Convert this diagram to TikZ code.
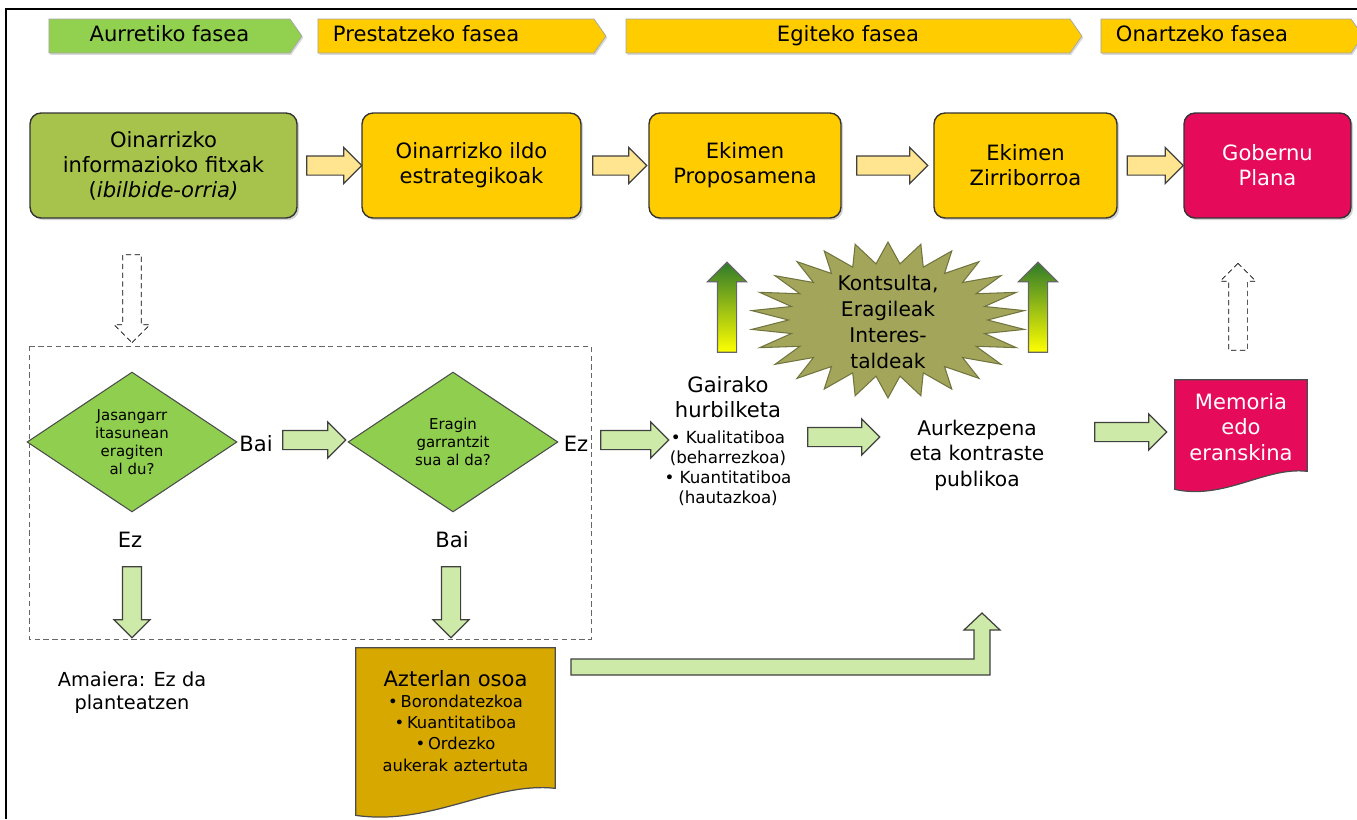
\documentclass[tikz,border=0pt]{standalone}
\usepackage{fontspec}
\setmainfont{DejaVu Sans}
\usepackage{tikz}
\usetikzlibrary{shapes,arrows,positioning,calc,shadows}

\definecolor{phgreen}{HTML}{92D050}
\definecolor{phyellow}{HTML}{FFCC00}
\definecolor{olivebox}{HTML}{A8C34C}
\definecolor{crimson}{HTML}{E50A5A}
\definecolor{goldbox}{HTML}{D6A800}
\definecolor{paleyel}{HTML}{FFE58F}
\definecolor{palegrn}{HTML}{CDEAA8}
\definecolor{dmgreen}{HTML}{8FCE4F}
\definecolor{burstcol}{HTML}{A3A65A}
\definecolor{darkgrn}{HTML}{2F7A2A}

\tikzset{
  phase/.style={signal, signal to=east, signal from=nowhere, signal pointer angle=110, fill=phyellow, draw=black!35, minimum height=0.68cm, inner sep=0pt, text height=9pt, text depth=2.5pt, font=\fontsize{12}{14}\selectfont, drop shadow={opacity=0.3, shadow xshift=0.8pt, shadow yshift=-1pt}},
  phlabel/.style={anchor=west, xshift=0.3cm, inner sep=0pt, text height=9pt, text depth=2.5pt, font=\fontsize{12}{14}\selectfont},
  stage/.style={rectangle, rounded corners=0.22cm, fill=phyellow, draw=black!80, line width=0.8pt, minimum height=2.1cm, align=center, font=\fontsize{12}{14.2}\selectfont, drop shadow={opacity=0.35, shadow xshift=1.2pt, shadow yshift=-1.2pt}},
  blk/.style={single arrow, line width=0.7pt, inner sep=0.18cm, single arrow head extend=0.17cm},
  yarr/.style={blk, fill=paleyel, draw=black!75},
  garr/.style={blk, fill=palegrn, draw=black!75},
  dasharr/.style={blk, fill=white, draw=black, densely dashed, line width=0.4pt},
  gradarr/.style={blk, draw=black!60, top color=darkgrn, bottom color=yellow, single arrow head extend=0.2cm},
  dia/.style={diamond, aspect=1.5, fill=dmgreen, draw=black!70, line width=0.6pt, minimum width=4.2cm, minimum height=2.8cm, inner sep=0pt, align=center, font=\fontsize{8.5}{10.2}\selectfont},
  doc/.style={rectangle, inner sep=0pt, align=center},
  docline/.style={draw=black!70, line width=0.7pt},
  plain/.style={align=center, inner sep=1pt, font=\fontsize{11.5}{14.5}\selectfont},
  small/.style={align=center, inner sep=1pt, font=\fontsize{9.5}{11.3}\selectfont},
  burst/.style={star, star points=26, star point ratio=1.38, minimum size=3.12cm, xscale=1.76, inner sep=0pt, fill=burstcol, draw=burstcol!70!black, line width=0.6pt},
  burstlabel/.style={align=center, inner sep=0pt, font=\fontsize{11.5}{14.7}\selectfont}
}

\begin{document}
\begin{tikzpicture}[x=0.02cm, y=-0.02cm]
\useasboundingbox (0,0) rectangle (1357,819);
\draw[line width=1.6pt] (6,819) -- (6,9) -- (1357,9);

% phases
\node[phase, fill=phgreen, minimum width=5.06cm] (ph1) at (169.5,36) {Aurretiko fasea};
\node[phase, minimum width=5.76cm, label={[phlabel]west:Prestatzeko fasea}] (ph2) at (456,36) {};
\node[phase, minimum width=9.12cm] (ph3) at (848,36) {Egiteko fasea};
\node[phase, minimum width=5.24cm, label={[phlabel]west:Onartzeko fasea}] (ph4) at (1226,36) {};

% main row
\node[stage, fill=olivebox, minimum width=5.34cm] (b1) at (163.5,165.5) {Oinarrizko\\informazioko fitxak\\(\textit{ibilbide-orria)}};
\node[stage, minimum width=4.38cm] (b2) at (471.5,165.5) {Oinarrizko ildo\\estrategikoak};
\node[stage, minimum width=3.84cm] (b3) at (745,165.5) {Ekimen\\Proposamena};
\node[stage, minimum width=3.66cm] (b4) at (1025.5,165.5) {Ekimen\\Zirriborroa};
\node[stage, fill=crimson, text=white, minimum width=3.34cm] (b5) at (1267.5,165.5) {Gobernu\\Plana};

\node[yarr, minimum height=1.1cm] (a1) at ($(b1.east)!0.5!(b2.west)$) {};
\node[yarr, minimum height=1.08cm] (a2) at ($(b2.east)!0.5!(b3.west)$) {};
\node[yarr, minimum height=1.42cm] (a3) at ($(b3.east)!0.5!(b4.west)$) {};
\node[yarr, minimum height=1.12cm] (a4) at ($(b4.east)!0.5!(b5.west)$) {};

% decision part
\node[dasharr, rotate=-90, minimum height=1.76cm] (dn0) at (132,294) {};
\draw[densely dashed, black!60, line width=0.5pt] (29,346) rectangle (591,639);

\node[dia] (d1) at (132,442) {Jasangarr\\itasunean\\eragiten\\al du?};
\node[dia] (d2) at (453,442) {Eragin\\garrantzit\\sua al da?};
\node[plain, font=\fontsize{12}{14}\selectfont] (bai1) at (256,444) {Bai};
\node[garr, minimum height=1.26cm] (g1) at (309.5,440) {};
\node[plain, font=\fontsize{12}{14}\selectfont] (ez1) at (576,444) {Ez};
\node[garr, minimum height=1.36cm] (g2) at (630,440) {};
\node[plain, font=\fontsize{12}{14}\selectfont] (ez2) at (130,540) {Ez};
\node[plain, font=\fontsize{12}{14}\selectfont] (bai2) at (452,540) {Bai};
\node[garr, rotate=-90, minimum height=1.42cm] (g3) at (132,597.5) {};
\node[garr, rotate=-90, minimum height=1.42cm] (g4) at (451,597.5) {};

\node[plain, font=\fontsize{11}{13}\selectfont] (end) at (132,693) {Amaiera: Ez da\\planteatzen};

% full study
\node[doc, minimum width=3.98cm, minimum height=2.92cm] (azt) at (455.5,721) {};
\draw[docline, fill=goldbox] (azt.north west) -- (azt.north east) -- ($(azt.south east)+(0,-6)$)
  .. controls ($(azt.south east)+(-63,-13)$) and ($(azt.south west)+(75,32)$) .. ($(azt.south west)+(0,21)$) -- cycle;
\node[doc] at (azt.center) {\fontsize{12}{15}\selectfont Azterlan osoa\\\fontsize{9.3}{10.8}\selectfont\textbullet\,Borondatezkoa\\\fontsize{9.3}{10.8}\selectfont\textbullet\,Kuantitatiboa\\\fontsize{9.3}{10.8}\selectfont\textbullet\,Ordezko\\\fontsize{9.3}{10.8}\selectfont aukerak aztertuta};

\draw[fill=palegrn, draw=black!75, line width=0.7pt] (571,659) -- (974,659) -- (974,630) -- (964,630) -- (982,613) -- (1000,630) -- (990,630) -- (990,675) -- (571,675) -- cycle;

% right part
\node[plain, font=\fontsize{12}{14.2}\selectfont] (gai) at (728,397) {Gairako\\hurbilketa};
\node[small, below=0.18cm of gai] (gaib) {\textbullet\ Kualitatiboa\\(beharrezkoa)\\\textbullet\ Kuantitatiboa\\(hautazkoa)};
\node[garr, minimum height=1.44cm] (g5) at (839,437) {};
\node[plain] (aurk) at (977,455) {Aurkezpena\\eta kontraste\\publikoa};
\node[garr, minimum height=1.44cm] (g6) at (1126,432) {};

\node[doc, minimum width=2.64cm, minimum height=1.88cm] (mem) at (1241,427) {};
\draw[docline, fill=crimson] (mem.north west) -- (mem.north east) -- ($(mem.south east)+(0,-3)$)
  .. controls ($(mem.south east)+(-42,-8)$) and ($(mem.south west)+(50,26)$) .. ($(mem.south west)+(0,15)$) -- cycle;
\node[doc, text=white, font=\fontsize{12}{14.7}\selectfont] at (mem.center) {Memoria\\edo\\eranskina};
\node[dasharr, rotate=90, minimum height=1.74cm] (up0) at (1238,311.5) {};

\node[burst] (kon) at (888,320) {};
\node[burstlabel] (kont) at ($(kon.center)+(0,2)$) {Kontsulta,\\Eragileak\\Interes-\\taldeak};
\node[gradarr, rotate=90, minimum height=1.8cm] (up1) at (727,312) {};
\node[gradarr, rotate=90, minimum height=1.8cm] (up2) at (1038,312) {};
\end{tikzpicture}
\end{document}
